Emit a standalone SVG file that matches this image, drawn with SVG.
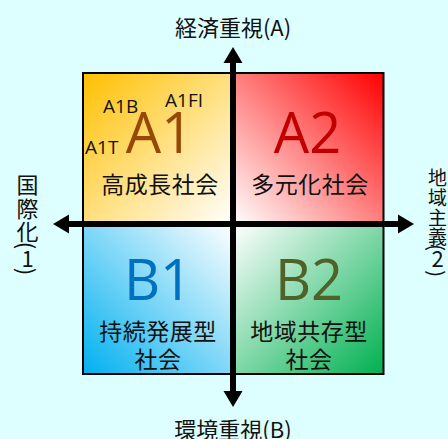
<svg xmlns="http://www.w3.org/2000/svg" width="448" height="439" viewBox="0 0 448 439">
<style>
.jp{font-family:"Noto Sans CJK JP","Noto Sans",sans-serif;fill:#111}
.big{font-family:"Open Sans","Liberation Sans",sans-serif;font-size:56px;text-anchor:middle}
.sm{font-family:"Open Sans","Liberation Sans",sans-serif;font-size:19px;fill:#111}
.q{stroke:#000;stroke-width:2}
.ax{stroke:#000;stroke-width:6;fill:none}
.c{text-anchor:middle}
</style>
<defs>
<linearGradient id="gA1" x1="0" y1="0" x2="1" y2="1"><stop offset="0" stop-color="#FFC000"/><stop offset="1" stop-color="#FFFFFF"/></linearGradient>
<linearGradient id="gA2" x1="1" y1="0" x2="0" y2="1"><stop offset="0" stop-color="#FF0000"/><stop offset="1" stop-color="#FFFFFF"/></linearGradient>
<linearGradient id="gB1" x1="0" y1="1" x2="1" y2="0"><stop offset="0" stop-color="#00B0F0"/><stop offset="1" stop-color="#FFFFFF"/></linearGradient>
<linearGradient id="gB2" x1="1" y1="1" x2="0" y2="0"><stop offset="0" stop-color="#00B050"/><stop offset="1" stop-color="#FFFFFF"/></linearGradient>
<marker id="ah" markerUnits="userSpaceOnUse" markerWidth="18" markerHeight="20" refX="0" refY="9.5" orient="auto-start-reverse" viewBox="0 0 18 19"><path d="M0,0 L16,9.5 L0,19 z" fill="#000"/></marker>
</defs>
<rect width="448" height="439" fill="#DDFFFF"/>

<g id="A1">
<rect class="q" x="83" y="73" width="150" height="151" fill="url(#gA1)"/>
<text class="big" x="159.5" y="153" fill="#984806">A1</text>
<text class="sm" x="103" y="113">A1B</text>
<text class="sm" x="165" y="107">A1FI</text>
<text class="sm" x="85" y="154">A1T</text>
<text class="jp c" x="160" y="193" font-size="23" letter-spacing="0.5">高成長社会</text>
</g>

<g id="A2">
<rect class="q" x="233" y="73" width="150.5" height="151" fill="url(#gA2)"/>
<text class="big" x="307.5" y="153" fill="#C00000">A2</text>
<text class="jp c" x="310" y="193" font-size="23" letter-spacing="0.5">多元化社会</text>
</g>

<g id="B1">
<rect class="q" x="83" y="224" width="150" height="150" fill="url(#gB1)"/>
<text class="big" x="158" y="300" fill="#0070C0">B1</text>
<text class="jp c" x="158" y="340" font-size="23" letter-spacing="0.5">持続発展型</text>
<text class="jp c" x="158" y="368" font-size="23" letter-spacing="0.5">社会</text>
</g>

<g id="B2">
<rect class="q" x="233" y="224" width="150.5" height="150" fill="url(#gB2)"/>
<text class="big" x="309" y="300" fill="#4F6228">B2</text>
<text class="jp c" x="309" y="340" font-size="23" letter-spacing="0.5">地域共存型</text>
<text class="jp c" x="309" y="368" font-size="23" letter-spacing="0.5">社会</text>
</g>

<g id="connectors">
<line class="ax" x1="233" y1="391" x2="233" y2="63" marker-start="url(#ah)" marker-end="url(#ah)"/>
<line class="ax" x1="69" y1="224" x2="398" y2="224" marker-start="url(#ah)" marker-end="url(#ah)"/>
</g>

<g id="label-top">
<text class="jp c" x="233" y="36" font-size="22">経済重視(A)</text>
</g>
<g id="label-bottom">
<text class="jp c" x="233" y="438" font-size="22">環境重視(B)</text>
</g>
<g id="label-left" class="jp">
<text class="c" x="27.5" y="192.5" font-size="22">国</text>
<text class="c" x="27.5" y="216.5" font-size="22">際</text>
<text class="c" x="27.5" y="240" font-size="22">化</text>
<text class="c" font-size="22" dominant-baseline="central" transform="translate(27.5,245.5) rotate(90)">(</text>
<text class="c" x="27.5" y="267" font-size="22">1</text>
<text class="c" font-size="22" dominant-baseline="central" transform="translate(27.5,271.5) rotate(90)">)</text>
</g>
<g id="label-right" class="jp">
<text class="c" x="437.5" y="184.5" font-size="19">地</text>
<text class="c" x="437.5" y="204.5" font-size="19">域</text>
<text class="c" x="437.5" y="224.5" font-size="19">主</text>
<text class="c" x="437.5" y="244" font-size="19">義</text>
<text class="c" font-size="20" dominant-baseline="central" transform="translate(437.5,247.5) rotate(90)">(</text>
<text class="c" x="437.5" y="267" font-size="22">2</text>
<text class="c" font-size="20" dominant-baseline="central" transform="translate(437.5,273.5) rotate(90)">)</text>
</g>
</svg>
